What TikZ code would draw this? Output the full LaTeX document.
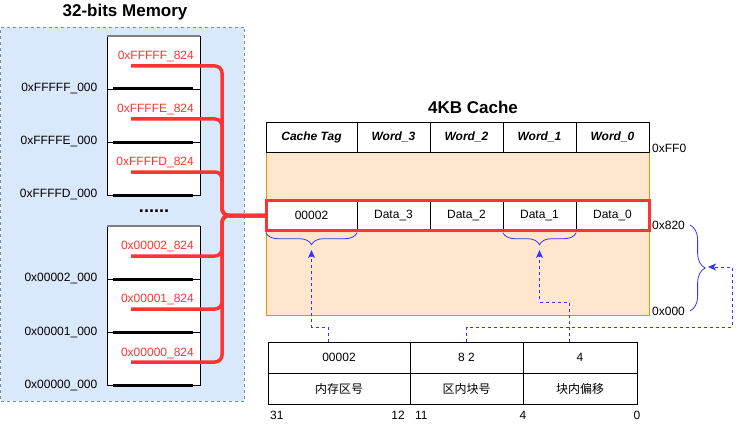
\documentclass[tikz,border=0pt]{standalone}
\usepackage{fontspec}
\setmainfont{Liberation Sans}
\newfontfamily\cjk{Noto Sans CJK SC}
\usetikzlibrary{arrows.meta,decorations.pathreplacing}
\definecolor{memFill}{HTML}{DAE8FC}
\definecolor{memLine}{HTML}{6C8EBF}
\definecolor{cacheFill}{HTML}{FFE6CC}
\definecolor{cacheLine}{HTML}{D79B00}
\definecolor{hitRed}{HTML}{FF3333}
\definecolor{ptrBlue}{HTML}{3333FF}
\begin{document}
\begin{tikzpicture}[x=1pt,y=-1pt,
    memArea/.style={rectangle,draw=memLine,fill=memFill,dash pattern=on 3pt off 3pt,minimum width=243.5pt,minimum height=374pt},
    memBk/.style={rectangle,draw=black,fill=white,minimum width=93pt,minimum height=159pt},
    titleTxt/.style={font=\fontsize{17}{20}\selectfont\bfseries},
    addrTxt/.style={inner sep=0pt,font=\fontsize{12}{14}\selectfont},
    cacheBk/.style={rectangle,draw=cacheLine,fill=cacheFill,minimum width=383pt,minimum height=163pt},
    hdCell/.style={rectangle,draw=black,fill=white,minimum height=30pt,font=\fontsize{12}{14}\selectfont\bfseries\itshape},
    dataCell/.style={rectangle,draw=black,fill=white,minimum height=30pt,font=\fontsize{12}{14}\selectfont},
    tblCell/.style={rectangle,draw=black,fill=white,minimum height=31pt,font=\fontsize{12}{14}\selectfont},
    hitBox/.style={rectangle,draw=hitRed,line width=3.5pt,minimum width=383pt,minimum height=30pt},
    busLn/.style={draw=hitRed,line width=3.5pt,rounded corners=7pt},
    sepLn/.style={line width=3pt},
    braceLn/.style={draw=ptrBlue,thick,decorate,decoration={brace,amplitude=12pt}},
    ptrArr/.style={draw=ptrBlue,thick,dash pattern=on 3pt off 3pt,-{Stealth[length=8pt,width=7pt,inset=2pt]}},
]
\useasboundingbox (0,0) rectangle (741,425);
% Memory
\node[memArea] (mem) at (122.25,214) {};
\node[titleTxt] (memTitle) at (125,12) {32-bits Memory};
\node[memBk] (memHi) at (153.5,115.5) {};
\node[memBk] (memLo) at (153.5,305.5) {};
\draw[gray,line width=1.5pt] (memHi.north west) -- (memHi.north east);
\draw[gray,line width=1.5pt] (memLo.north west) -- (memLo.north east);
\node[font=\fontsize{18}{20}\selectfont\bfseries] (memDots) at (154,211) {......};
% Cache
\node[titleTxt] (cacheTitle) at (473,107) {4KB Cache};
\node[cacheBk] (cacheBody) at (457.5,233.5) {};
\node[hdCell,minimum width=91pt] (tagH) at (311.5,137) {Cache Tag};
\node[hdCell,minimum width=73pt] (w3H) at (393.5,137) {Word\_3};
\node[hdCell,minimum width=73pt] (w2H) at (466.5,137) {Word\_2};
\node[hdCell,minimum width=73pt] (w1H) at (539.5,137) {Word\_1};
\node[hdCell,minimum width=73pt] (w0H) at (612.5,137) {Word\_0};
\node[dataCell,minimum width=91pt] (tagD) at (311.5,215.5) {00002};
\node[dataCell,minimum width=73pt] (w3D) at (393.5,215.5) {Data\_3};
\node[dataCell,minimum width=73pt] (w2D) at (466.5,215.5) {Data\_2};
\node[dataCell,minimum width=73pt] (w1D) at (539.5,215.5) {Data\_1};
\node[dataCell,minimum width=73pt] (w0D) at (612.5,215.5) {Data\_0};
\node[hitBox] (hitRow) at (458,215.5) {};
\node[addrTxt,anchor=west] (aFF0) at (652,148) {0xFF0};
\node[addrTxt,anchor=west] (a820) at (652,225) {0x820};
\node[addrTxt,anchor=west] (a000) at (652,311) {0x000};
% Memory blocks mapped onto the hit row
\coordinate (busJ) at (222,215.5);
\foreach \y/\hx in {89/FFFFF,142/FFFFE,195/FFFFD,279/00002,332/00001,385/00000} {
  \draw (107,\y) -- (200,\y);
  \draw[sepLn] (113,\y) -- (193,\y);
  \node[addrTxt,anchor=east] (m\hx) at (97.5,\y) {0x\hx\_000};
  \node[addrTxt,anchor=east,text=hitRed] (r\hx) at (194,\y-32) {0x\hx\_824};
  \coordinate (s\hx) at (131,\y-23);
  \draw[busLn] (s\hx) -| (busJ) -- (hitRow.west);
}
% Address
\node[tblCell,minimum width=142pt] (addrTag) at (339,357.5) {00002};
\node[tblCell,minimum width=113pt] (addrIdx) at (466.5,357.5) {8 2};
\node[tblCell,minimum width=114pt] (addrOff) at (580,357.5) {4};
\node[tblCell,minimum width=142pt] (nameTag) at (339,388.5) {\cjk 内存区号};
\node[tblCell,minimum width=113pt] (nameIdx) at (466.5,388.5) {\cjk 区内块号};
\node[tblCell,minimum width=114pt] (nameOff) at (580,388.5) {\cjk 块内偏移};
\node[addrTxt,anchor=west] (b31) at (270,415) {31};
\node[addrTxt,anchor=east] (b12) at (405,415) {12};
\node[addrTxt,anchor=west] (b11) at (415,415) {11};
\node[addrTxt] (b4) at (523,415) {4};
\node[addrTxt] (b0) at (637,415) {0};
% Field pointers
\draw[braceLn] ([yshift=-2pt]tagD.south east) -- ([yshift=-2pt]tagD.south west);
\draw[braceLn] ([yshift=-2pt]w1D.south east) -- ([yshift=-2pt]w1D.south west);
\draw[braceLn,decoration={amplitude=15pt}] ([xshift=5pt]a820.east) -- ([xshift=5pt]a000.east);
\coordinate (tagTip) at (311.5,250);
\coordinate (offTip) at (539.5,250);
\coordinate (idxTip) at (708,267);
\draw[ptrArr] ([xshift=-11pt]addrTag.north) |- (311.5,327) -- (tagTip);
\draw[ptrArr] (addrIdx.north) |- (732,327) |- (idxTip);
\draw[ptrArr] ([xshift=-11pt]addrOff.north) |- (539.5,302) -- (offTip);
\end{tikzpicture}
\end{document}
